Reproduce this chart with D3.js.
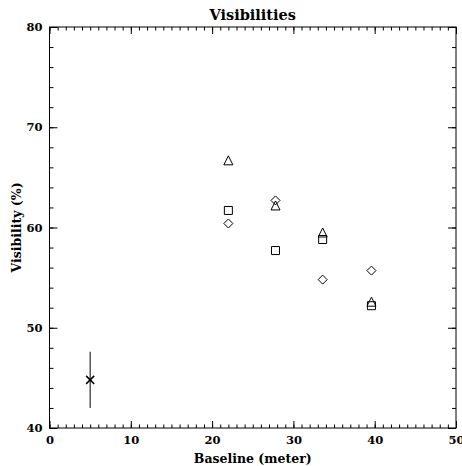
<!DOCTYPE html>
<html>
<head>
<meta charset="utf-8">
<script src="https://cdn.jsdelivr.net/npm/d3@7"></script>
<style>
  body { margin: 0; background: #fff; }
  svg { display: block; }
  .axis text { font-family: "DejaVu Serif", serif; font-weight: bold; font-size: 11.5px; fill: #000; }
  .axis line { stroke: #000; }
  .axis path { display: none; }
  .lbl { font-family: "DejaVu Serif", serif; font-weight: bold; fill: #000; }
</style>
</head>
<body>
<div class="canvas"></div>
<script>
// values
var baseline = [22.0, 27.8, 33.6, 39.6];
var visTriangle = [66.7, 62.2, 59.5, 52.6];
var visSquare = [61.7, 57.7, 58.8, 52.2];
var visDiamond = [60.4, 62.7, 54.8, 55.7];
var refBaseline = [5.0];
var refVis = [44.8];
var refErr = [2.8];

var xMajor = [0, 10, 20, 30, 40, 50];
var yMajor = [40, 50, 60, 70, 80];

var w = 462, h = 466;
var m = {left: 49.5, right: 456, top: 27, bottom: 428};

var x = d3.scaleLinear().domain([0, 50]).range([m.left, m.right]);
var y = d3.scaleLinear().domain([40, 80]).range([m.bottom, m.top]);

var svg = d3.select('.canvas').append('svg')
    .attr('width', w)
    .attr('height', h);

// minor ticks
var xMinor = d3.range(0, 51, 1);
var yMinor = d3.range(40, 81, 2);

function tickAxis(axis, pos, vals, len, labels, pad) {
    var a = axis.tickValues(vals).tickSize(-len).tickSizeOuter(0);
    if (!labels) a.tickFormat('');
    else a.tickFormat(d3.format('d')).tickPadding(pad);
    svg.append('g')
        .attr('class', 'axis')
        .attr('transform', pos)
        .call(a);
}

tickAxis(d3.axisBottom(x), 'translate(0,' + m.bottom + ')', xMinor, 3.5, false);
tickAxis(d3.axisBottom(x), 'translate(0,' + m.bottom + ')', xMajor, 7, true, 8);
tickAxis(d3.axisTop(x), 'translate(0,' + m.top + ')', xMinor, 3.5, false);
tickAxis(d3.axisTop(x), 'translate(0,' + m.top + ')', xMajor, 7, false);
tickAxis(d3.axisLeft(y), 'translate(' + m.left + ',0)', yMinor, 4, false);
tickAxis(d3.axisLeft(y), 'translate(' + m.left + ',0)', yMajor, 8, true, 7);
tickAxis(d3.axisRight(y), 'translate(' + m.right + ',0)', yMinor, 4, false);
tickAxis(d3.axisRight(y), 'translate(' + m.right + ',0)', yMajor, 8, false);

// frame
svg.append('rect')
    .attr('x', m.left)
    .attr('y', m.top)
    .attr('width', m.right - m.left)
    .attr('height', m.bottom - m.top)
    .attr('fill', 'none')
    .attr('stroke', '#000');

// titles
svg.append('text')
    .attr('class', 'lbl')
    .attr('x', (m.left + m.right) / 2)
    .attr('y', 20)
    .attr('text-anchor', 'middle')
    .style('font-size', '14.5px')
    .text('Visibilities');

svg.append('text')
    .attr('class', 'lbl')
    .attr('x', (m.left + m.right) / 2)
    .attr('y', 463)
    .attr('text-anchor', 'middle')
    .style('font-size', '12.5px')
    .text('Baseline (meter)');

svg.append('text')
    .attr('class', 'lbl')
    .attr('transform', 'translate(21,' + (m.top + m.bottom) / 2 + ') rotate(-90)')
    .attr('text-anchor', 'middle')
    .style('font-size', '12.5px')
    .text('Visibility (%)');

// IDL style plot symbols
var triType = {draw: function(c, s) {
    var r = Math.sqrt(s) / 2;
    c.moveTo(0, -r); c.lineTo(r, r); c.lineTo(-r, r); c.closePath();
}};
var sqType = {draw: function(c, s) {
    var r = Math.sqrt(s) / 2;
    c.moveTo(-r, -r); c.lineTo(r, -r); c.lineTo(r, r); c.lineTo(-r, r); c.closePath();
}};
var diaType = {draw: function(c, s) {
    var r = Math.sqrt(s) / 2;
    c.moveTo(0, -r); c.lineTo(r, 0); c.lineTo(0, r); c.lineTo(-r, 0); c.closePath();
}};
var xType = {draw: function(c, s) {
    var r = Math.sqrt(s) / 2;
    c.moveTo(-r, -r); c.lineTo(r, r); c.moveTo(r, -r); c.lineTo(-r, r);
}};

var series = [
    {vals: visTriangle, type: triType, size: 81},
    {vals: visSquare, type: sqType, size: 64},
    {vals: visDiamond, type: diaType, size: 81}
];

series.forEach(function(sr) {
    svg.append('g')
        .selectAll('path')
        .data(sr.vals)
        .enter()
        .append('path')
        .attr('transform', function(d, i) {
            return 'translate(' + x(baseline[i]) + ',' + y(d) + ')';
        })
        .attr('d', d3.symbol().type(sr.type).size(sr.size))
        .attr('fill', 'none')
        .attr('stroke', '#000')
        .attr('stroke-width', 1);
});

// reference point with error bar
var ref = svg.append('g')
    .selectAll('g')
    .data(refVis)
    .enter()
    .append('g');

ref.append('line')
    .attr('x1', function(d, i) { return x(refBaseline[i]); })
    .attr('x2', function(d, i) { return x(refBaseline[i]); })
    .attr('y1', function(d, i) { return y(d + refErr[i]); })
    .attr('y2', function(d, i) { return y(d - refErr[i]); })
    .attr('stroke', '#000');

ref.append('path')
    .attr('transform', function(d, i) {
        return 'translate(' + x(refBaseline[i]) + ',' + y(d) + ')';
    })
    .attr('d', d3.symbol().type(xType).size(64))
    .attr('fill', 'none')
    .attr('stroke', '#000')
    .attr('stroke-width', 1.5);
</script>
</body>
</html>
